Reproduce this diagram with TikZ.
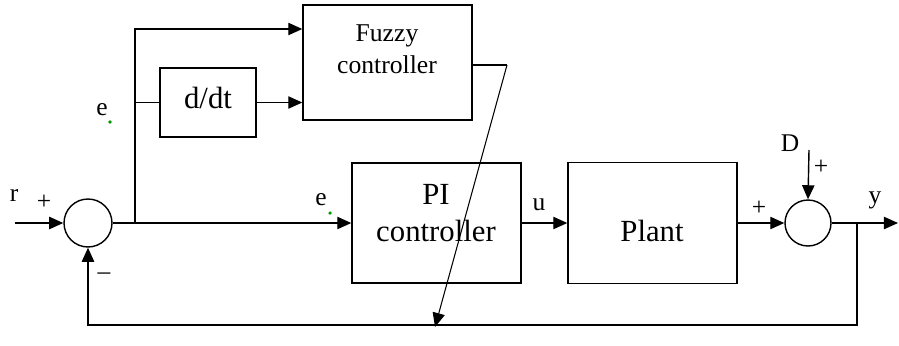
\documentclass[tikz,border=0pt]{standalone}
\usepackage{fontspec}
\setmainfont{Liberation Serif}
\usetikzlibrary{arrows.meta,calc}

\begin{document}
\begin{tikzpicture}[x=0.02cm,y=-0.02cm,>={Triangle[length=8pt,width=7pt]},line width=0.8pt]
	\tikzset{
		block/.style={draw,rectangle,inner sep=0pt},
		sumnode/.style={draw,circle,inner sep=0pt,minimum size=0.96cm},
		bigtext/.style={font=\fontsize{17.5}{21}\selectfont,align=center},
		smalltext/.style={font=\fontsize{14.5}{17.5}\selectfont,inner sep=0pt}
	}
	\useasboundingbox (0,0) rectangle (899,345);
	
	% blocks
	\node[block,minimum width=3.38cm,minimum height=2.3cm] (fuzzy) at (387.5,62.5) {};
	\node[block,minimum width=1.92cm,minimum height=1.38cm] (ddt) at (208,102.5) {};
	\node[block,minimum width=3.38cm,minimum height=2.4cm] (pi) at (436.5,223) {};
	\node[block,minimum width=3.38cm,minimum height=2.42cm] (plant) at (652.5,223) {};
	\node[sumnode] (sumA) at (88,223) {};
	\node[sumnode,minimum size=0.92cm] (sumB) at (808,223) {};
	
	\node[bigtext,font=\fontsize{14.6}{18}\selectfont] (fuzzytxt) at (387,49) {Fuzzy\\controller};
	\node[bigtext] (ddttxt) at (208,98) {d/dt};
	\node[bigtext] (pitxt) at (436,213) {PI\\controller};
	\node[bigtext] (planttxt) at (652,231) {Plant};
	
	% signal lines
	\coordinate (rin) at (15,223);
	\coordinate (split) at (135,223);
	\coordinate (dtop) at (809,150);
	\coordinate (yout) at (898,223);
	\coordinate (fb) at (857,223);
	\coordinate (fbcorner) at (857,325);
	\coordinate (fo) at (507,65);
	\coordinate (adapt) at (435,327);
	
	\draw[->] (rin) -- (sumA.west);
	\draw[->] (sumA.east) -- (pi.west);
	\draw[->] (split) |- (fuzzy.west |- 0,29);
	\draw (split |- ddt.west) -- (ddt.west);
	\draw[->] (ddt.east) -- (fuzzy.west |- ddt.east);
	\draw[->] (pi.east) -- (plant.west);
	\draw[->] (plant.east) -- (sumB.west);
	\draw[->] (dtop) -- (sumB.north);
	\draw[->] (sumB.east) -- (yout);
	\draw[->] (fb) -- (fbcorner) -| (sumA.south);
	\draw (fuzzy.east |- fo) -- (fo);
	\draw[->,line width=0.6pt] (fo) -- (adapt);
	
	% labels
	\node[smalltext] (rlbl) at (14,195) {r};
	\node[smalltext] (plusA) at (44,202) {+};
	\node[smalltext] (minusA) at (104,276) {–};
	\node[smalltext] (eA) at (102,110) {e};
	\node[smalltext] (eB) at (321,200) {e};
	\node[smalltext] (ulbl) at (539,205) {u};
	\node[smalltext] (plusB) at (759,208) {+};
	\node[smalltext] (dlbl) at (790,143) {D};
	\node[smalltext] (plusD) at (821,167) {+};
	\node[smalltext] (ylbl) at (875,200) {y};
	\fill[green!60!black] (110,122) circle (1pt);
	\fill[green!60!black] (330,213) circle (1pt);
\end{tikzpicture}
\end{document}
